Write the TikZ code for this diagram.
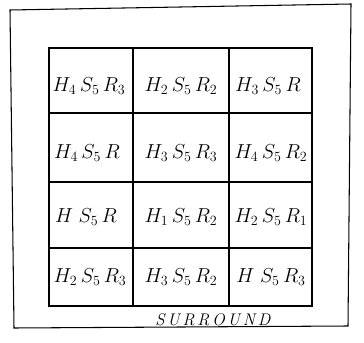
\documentclass[tikz,border=0pt]{standalone}
\usepackage{amsmath,amssymb}
\usepackage{tikz}

\begin{document}
\begin{tikzpicture}[x=0.03cm, y=-0.03cm, every node/.style={font=\LARGE},
    trazo/.style={line width=0.9pt}]
    \useasboundingbox (0,0) rectangle (364,343);

    % Marco exterior (entorno)
    \draw[trazo] (10,10) -- (351,4) -- (348,326) -- (14,328) -- cycle;

    % Rejilla de 3 x 4 celdas
    \draw[trazo] (49,48) rectangle (312,306);
    \foreach \x in {133,229} \draw[trazo] (\x,48) -- (\x,306);
    \foreach \y in {113,182,248} \draw[trazo] (49,\y) -- (312,\y);

    % Fila 1
    \node (c11) at (89,86) {$H_4\,S_5\,R_3$};
    \node (c12) at (181,86) {$H_2\,S_5\,R_2$};
    \node (c13) at (268,86) {$H_3\,S_5\,R$};

    % Fila 2
    \node (c21) at (87,153) {$H_4\,S_5\,R$};
    \node (c22) at (181,153) {$H_3\,S_5\,R_3$};
    \node (c23) at (271,153) {$H_4\,S_5\,R_2$};

    % Fila 3
    \node (c31) at (86,217) {$H\;S_5\,R$};
    \node (c32) at (181,217) {$H_1\,S_5\,R_2$};
    \node (c33) at (271,217) {$H_2\,S_5\,R_1$};

    % Fila 4
    \node (c41) at (90,277) {$H_2\,S_5\,R_3$};
    \node (c42) at (181,277) {$H_3\,S_5\,R_2$};
    \node (c43) at (271,277) {$H\;S_5\,R_3$};

    % Rotulo del entorno
    \node[font=\Large] (sur) at (213,320) {\textit{S\,U\,R\,R\,O\,U\,N\,D}};
\end{tikzpicture}
\end{document}
